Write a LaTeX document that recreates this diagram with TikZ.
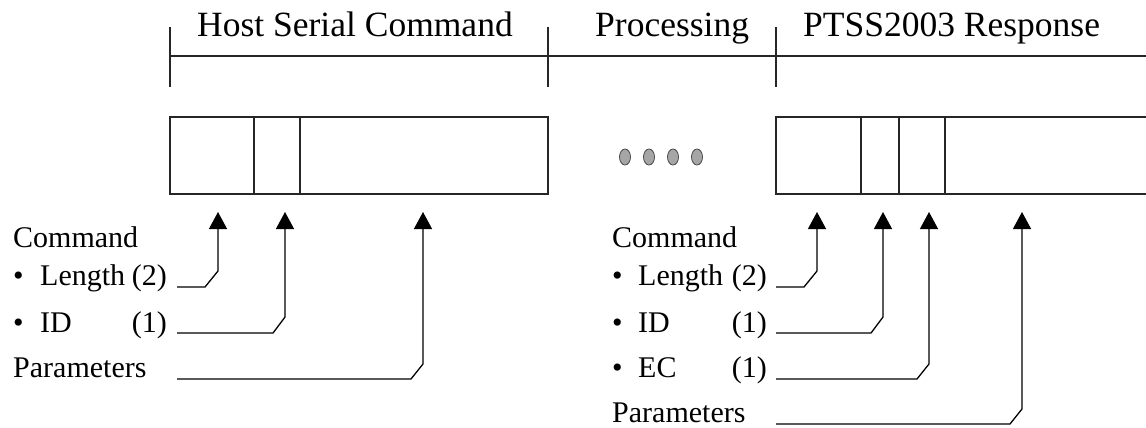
\documentclass[tikz,border=0pt]{standalone}
\usepackage{fontspec}
\setmainfont{Liberation Serif}
\usetikzlibrary{arrows.meta,calc,shapes.geometric}
\tikzset{
  hdr/.style={anchor=base west, inner sep=0pt, font=\fontsize{35.5}{40}\selectfont},
  lbl/.style={anchor=base west, inner sep=0pt, font=\fontsize{30}{34}\selectfont},
  lble/.style={lbl, anchor=base east},
  frame/.style={line width=1.2pt, draw=black!85},
  conn/.style={line width=1.3pt, draw=black, -{Triangle[width=18pt,length=17pt]}},
  dotn/.style={ellipse, draw=black!70, fill=black!35, line width=0.8pt, minimum width=11pt, minimum height=16pt, inner sep=0pt}
}
\begin{document}
\begin{tikzpicture}[x=1pt,y=-1pt]
\clip (0,0) rectangle (1146,428);
\fill[white] (0,0) rectangle (1146,428);
% headers
\node[hdr] (hHost) at (197,37) {Host Serial Command};
\node[hdr] (hProc) at (595,37) {Processing};
\node[hdr] (hResp) at (803,37) {PTSS2003 Response};
% timeline
\draw[frame] (170,56) -- (1160,56);
\draw[frame] (170,27) -- (170,87);
\draw[frame] (548,27) -- (548,87);
\draw[frame] (776,27) -- (776,87);
% host box
\draw[frame] (170,117) rectangle (548,194);
\draw[frame] (254,117) -- (254,194);
\draw[frame] (300,117) -- (300,194);
% response box (runs past right edge)
\draw[frame] (1160,117) -- (776,117) -- (776,194) -- (1160,194);
\draw[frame] (861,117) -- (861,194);
\draw[frame] (899,117) -- (899,194);
\draw[frame] (945,117) -- (945,194);
% dots
\node[dotn] (d1) at (625,157) {};
\node[dotn] (d2) at (649,157) {};
\node[dotn] (d3) at (673,157) {};
\node[dotn] (d4) at (697,157) {};
% left labels
\node[lbl] (cmdL) at (13,247) {Command};
\node[lbl] (b1L) at (13,285) {•};
\node[lbl] (lenL) at (40,285) {Length};
\node[lble] (lenNL) at (167,285) {(2)};
\node[lbl] (b2L) at (13,332) {•};
\node[lbl] (idL) at (40,332) {ID};
\node[lble] (idNL) at (167,332) {(1)};
\node[lbl] (parL) at (13,377) {Parameters};
% right labels
\node[lbl] (cmdR) at (612,247) {Command};
\node[lbl] (b1R) at (612,285) {•};
\node[lbl] (lenR) at (638,285) {Length};
\node[lble] (lenNR) at (767,285) {(2)};
\node[lbl] (b2R) at (612,332) {•};
\node[lbl] (idR) at (638,332) {ID};
\node[lble] (idNR) at (767,332) {(1)};
\node[lbl] (b3R) at (612,377) {•};
\node[lbl] (ecR) at (638,377) {EC};
\node[lble] (ecNR) at (767,377) {(1)};
\node[lbl] (parR) at (612,422) {Parameters};
% connector end points
\coordinate (sL1) at (177,287); \coordinate (tL1) at (218,212);
\coordinate (sL2) at (177,333); \coordinate (tL2) at (285,212);
\coordinate (sL3) at (177,379); \coordinate (tL3) at (423,212);
\coordinate (sR1) at (776,287); \coordinate (tR1) at (817,212);
\coordinate (sR2) at (776,333); \coordinate (tR2) at (883,212);
\coordinate (sR3) at (776,379); \coordinate (tR3) at (929,212);
\coordinate (sR4) at (776,424); \coordinate (tR4) at (1022,212);
% connectors
\draw[conn] (sL1) -- (205,287) -- (218,271) -- (tL1);
\draw[conn] (sL2) -- (273,333) -- (285,317) -- (tL2);
\draw[conn] (sL3) -- (411,379) -- (423,364) -- (tL3);
\draw[conn] (sR1) -- (804,287) -- (817,271) -- (tR1);
\draw[conn] (sR2) -- (871,333) -- (883,317) -- (tR2);
\draw[conn] (sR3) -- (917,379) -- (929,364) -- (tR3);
\draw[conn] (sR4) -- (1010,424) -- (1022,409) -- (tR4);
\end{tikzpicture}
\end{document}
